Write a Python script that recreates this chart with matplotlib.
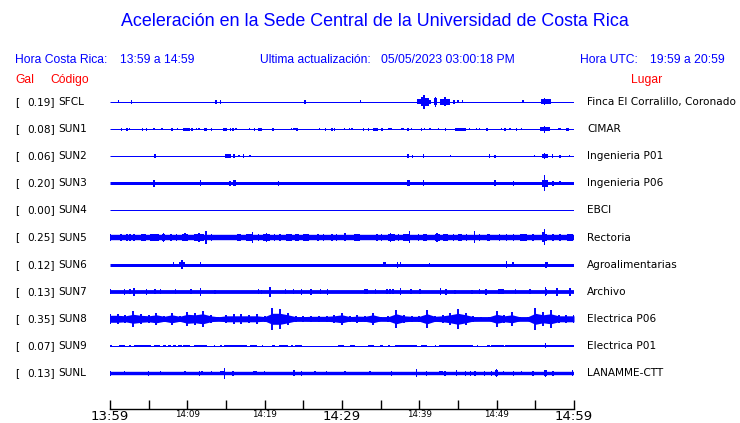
import matplotlib
matplotlib.use("Agg")
import matplotlib.pyplot as plt
import numpy as np

# ---------------- data ----------------
STATIONS = ["SFCL", "SUN1", "SUN2", "SUN3", "SUN4", "SUN5", "SUN6", "SUN7", "SUN8", "SUN9", "SUNL"]
GAL = [0.19, 0.08, 0.06, 0.20, 0.00, 0.25, 0.12, 0.13, 0.35, 0.07, 0.13]
PLACES = ["Finca El Corralillo, Coronado", "CIMAR", "Ingenieria P01", "Ingenieria P06", "EBCI",
          "Rectoria", "Agroalimentarias", "Archivo", "Electrica P06", "Electrica P01", "LANAMME-CTT"]

TICK_MINUTES = [0, 5, 10, 15, 20, 25, 30, 35, 40, 45, 50, 55, 60]
TICK_LABELS = ["13:59", "", "14:09", "", "14:19", "", "14:29", "", "14:39", "", "14:49", "", "14:59"]
MAJOR_TICKS = ["13:59", "14:29", "14:59"]

# background noise half-amplitude of each trace (relative units)
BASE = [0.5, 0.5, 0.5, 1.5, 0.5, 2.7, 1.5, 1.9, 0.0, 0.5, 1.7]

# events: (start minute, end minute, half amplitude)
SFCL_EV = [(1.1, 1.1, 1.5), (2.7, 2.9, 2), (13.6, 13.8, 2), (14.3, 14.3, 2), (25.2, 25.2, 2),
           (32.4, 32.4, 1.5), (39.7, 40.3, 2.5), (40.2, 40.5, 4.5), (40.6, 40.6, 7), (40.6, 41.3, 4),
           (41.4, 41.4, 2), (41.9, 42.3, 3.5), (42.1, 42.1, 5), (42.7, 44.0, 3), (43.3, 43.3, 4.5),
           (44.5, 44.5, 2), (45.0, 45.0, 1.5), (45.5, 45.7, 1.5), (53.4, 53.4, 1.5),
           (55.7, 57.0, 2.5), (56.1, 56.3, 3.5)]
SUN1_EV = [(1.5, 1.5, 1.5), (2.2, 2.2, 1.5), (2.5, 2.5, 1.2), (4.2, 4.2, 1.5), (4.7, 4.7, 1.5),
           (5.7, 5.7, 1.2), (6.7, 6.7, 1.2), (8.0, 8.0, 1.5), (8.7, 8.7, 1.2), (9.5, 10.3, 1.5),
           (10.6, 10.6, 1.5), (11.2, 11.2, 1.2), (11.5, 11.5, 1.2), (12.1, 12.5, 1.5), (13.1, 13.1, 1.5),
           (14.6, 15.1, 1.5), (15.5, 15.7, 1.5), (15.9, 15.9, 1.5), (16.3, 16.3, 1.2), (18.0, 18.0, 1.2),
           (18.7, 18.7, 1.5), (19.2, 19.7, 1.5), (21.1, 21.1, 1.5), (23.5, 23.5, 1.2), (23.7, 23.7, 1.2),
           (23.9, 23.9, 1.2), (24.2, 24.2, 1.5), (27.1, 27.1, 1.2), (27.9, 27.9, 1.5), (28.7, 28.7, 1.5),
           (29.0, 29.0, 1.5), (30.3, 30.4, 1.2), (31.0, 31.0, 1.2), (31.3, 31.3, 1.2), (32.8, 32.8, 1.5),
           (33.4, 33.4, 1.5), (34.0, 34.7, 1.5), (35.1, 35.3, 1.5), (36.0, 36.0, 1.2), (36.2, 36.2, 1.2),
           (36.4, 36.4, 1.2), (37.7, 37.7, 1.2), (37.9, 37.9, 1.2), (38.4, 38.6, 1.5), (39.0, 39.0, 1.2),
           (40.3, 40.3, 1.5), (40.7, 40.7, 1.2), (41.4, 41.4, 1.2), (42.5, 42.5, 1.2), (43.4, 43.4, 1.5),
           (44.6, 46.0, 1.5), (46.5, 46.5, 1.2), (47.4, 47.4, 1.2), (47.8, 47.8, 1.2), (48.6, 48.9, 1.5),
           (50.6, 50.6, 1.2), (51.1, 51.1, 1.5), (51.7, 51.7, 1.2), (52.6, 52.6, 1.5), (53.2, 53.2, 1.2),
           (55.6, 56.9, 2.3), (56.2, 56.2, 3.5), (58.0, 58.0, 1.2), (58.2, 58.2, 1.2), (59.1, 59.1, 1.5),
           (59.3, 59.3, 1.5)]
SUN2_EV = [(5.8, 5.8, 2), (14.9, 15.6, 2), (15.9, 16.2, 2), (16.7, 16.7, 1.2), (17.3, 17.3, 2),
           (18.1, 18.1, 1), (38.4, 38.7, 2), (39.1, 39.1, 1.5), (40.5, 40.5, 2), (44.0, 44.0, 1.2),
           (49.1, 49.1, 2), (49.8, 49.8, 1.5), (54.9, 54.9, 1), (55.8, 56.7, 2.3), (56.2, 56.2, 3),
           (57.2, 57.2, 2), (58.2, 58.2, 1.5), (59.4, 59.4, 1.2)]
SUN3_EV = [(5.7, 5.7, 3.5), (11.7, 11.7, 3), (15.5, 15.5, 2.5), (15.9, 16.3, 3), (21.8, 21.8, 2.5),
           (38.4, 38.8, 2.8), (40.5, 40.5, 3), (49.8, 49.8, 3), (52.2, 52.2, 2.5), (55.8, 56.7, 3.5),
           (56.1, 56.3, 5), (56.2, 56.2, 8), (57.3, 57.3, 2.5), (58.2, 58.2, 2)]
SUN4_EV = []
SUN5_EV = [(0.1, 0.1, 3.5), (1.4, 1.4, 3.5), (2.2, 2.2, 3.5), (2.6, 2.6, 3.5), (3.1, 3.1, 3.5),
           (4.0, 4.7, 3.1), (5.2, 6.3, 3.2), (6.7, 7.1, 3.5), (6.9, 6.9, 4.5), (7.9, 7.9, 3.5),
           (8.6, 8.6, 3.5), (9.3, 10.1, 3.3), (9.7, 9.7, 4), (10.8, 12.1, 3.4), (11.5, 11.5, 4.5),
           (12.4, 12.4, 6.5), (13.1, 13.1, 3.5), (16.4, 17.0, 3.2), (17.6, 18.3, 3.4), (18.4, 18.4, 5.5),
           (19.2, 19.2, 3.5), (19.8, 20.7, 3.4), (20.2, 20.2, 4.5), (21.3, 21.3, 3.5), (22.0, 22.0, 3.5),
           (22.8, 23.5, 3.2), (23.9, 24.4, 3.2), (25.0, 25.7, 3.3), (26.9, 26.9, 3.5), (27.6, 27.6, 3.5),
           (28.7, 28.7, 3.5), (29.3, 29.3, 3.5), (30.4, 30.4, 4), (31.5, 32.3, 3.2), (34.5, 34.5, 3.5),
           (35.1, 35.1, 3.5), (36.0, 36.9, 3.4), (36.3, 36.3, 4.5), (37.3, 37.3, 3.5), (37.9, 38.6, 3.4),
           (38.7, 38.7, 6), (39.9, 39.9, 3.5), (40.5, 41.0, 3.2), (42.0, 42.7, 3.4), (42.3, 42.3, 4.5),
           (43.1, 43.7, 3.2), (44.4, 44.4, 3.5), (45.0, 45.5, 3.2), (46.1, 46.1, 3.5), (47.1, 47.1, 6),
           (47.8, 47.8, 3.5), (48.7, 49.1, 3.2), (50.4, 50.4, 3.5), (51.3, 51.3, 3.5), (52.2, 52.2, 3.5),
           (53.0, 53.9, 3.2), (54.7, 54.7, 3.5), (55.8, 56.5, 3.6), (56.0, 56.0, 5), (56.2, 56.2, 8),
           (57.3, 57.3, 3.5), (58.2, 58.2, 3.5), (59.1, 59.9, 3.2)]
SUN6_EV = [(8.2, 8.2, 2.5), (8.9, 9.7, 2.5), (9.3, 9.3, 4.5), (11.7, 11.7, 2.5), (35.3, 35.7, 2.3),
           (37.2, 37.2, 3), (37.6, 37.6, 2.5), (41.3, 41.3, 2), (51.3, 51.3, 3.5), (52.1, 52.1, 2.5),
           (56.2, 56.7, 2.5), (56.4, 56.4, 3)]
SUN7_EV = [(0.1, 0.1, 2.5), (1.9, 1.9, 3), (2.6, 2.6, 2.5), (3.1, 3.1, 4), (4.7, 4.7, 3), (5.8, 5.8, 2.5),
           (6.5, 6.5, 2.5), (8.5, 8.5, 2.5), (10.3, 10.6, 2.6), (11.7, 11.7, 4), (13.6, 13.6, 2),
           (19.2, 19.2, 2.5), (19.6, 19.6, 2), (20.7, 20.7, 5), (22.7, 22.7, 2.5), (23.7, 23.7, 2.5),
           (24.8, 24.8, 3), (26.0, 26.0, 3), (27.2, 27.2, 2.5), (28.1, 28.1, 3), (32.8, 33.3, 2.6),
           (34.3, 34.3, 2.5), (35.8, 35.8, 2.5), (36.2, 36.2, 2.5), (36.6, 36.6, 2.5), (37.6, 37.6, 3.5),
           (38.9, 38.9, 2.5), (40.1, 40.1, 2.5), (42.7, 42.7, 3.5), (43.3, 43.6, 2.8), (44.6, 44.6, 2),
           (46.8, 46.8, 2), (47.8, 47.8, 2.5), (48.6, 48.6, 3), (50.2, 50.9, 2.4), (52.4, 52.4, 2.5),
           (54.3, 54.3, 2.5), (56.2, 56.5, 3.2), (56.3, 56.3, 4.5), (57.8, 57.8, 4), (59.5, 59.5, 4)]
SUN8_EV = []
SUN9_EV = [(0.0, 0.3, 1.4), (1.1, 1.9, 1.4), (2.4, 2.7, 1.4), (3.1, 5.3, 1.4), (5.7, 6.5, 1.4),
           (6.9, 7.2, 1.4), (7.5, 7.9, 1.4), (8.2, 8.5, 1.4), (8.8, 9.3, 1.4), (9.5, 10.3, 1.4),
           (10.8, 12.5, 1.4), (13.4, 13.6, 1.4), (14.2, 14.5, 1.4), (14.8, 17.7, 1.4), (18.1, 19.0, 1.4),
           (19.6, 19.8, 1.4), (20.9, 21.4, 1.4), (21.9, 23.0, 1.4), (23.4, 23.7, 1.4), (23.9, 24.8, 1.4),
           (29.5, 30.2, 1.4), (31.0, 31.7, 1.4), (33.4, 34.1, 1.4), (34.9, 35.3, 1.4), (36.0, 36.2, 1.4),
           (36.9, 39.7, 1.4), (40.2, 41.0, 1.4), (42.0, 42.2, 1.4), (42.6, 47.0, 1.4), (47.4, 47.6, 1.4),
           (48.7, 49.1, 1.4), (49.3, 50.9, 1.4), (51.1, 60.0, 1.4), (56.3, 56.3, 2.5)]
SUNL_EV = [(0.1, 0.1, 2.5), (1.9, 1.9, 2.2), (5.0, 5.0, 2.5), (6.5, 6.5, 2.2), (9.7, 9.7, 2.2),
           (11.6, 11.6, 2.5), (11.9, 11.9, 2.2), (13.1, 13.1, 2.2), (14.2, 14.8, 2.4), (14.8, 14.8, 5.5),
           (15.9, 15.9, 2.5), (18.5, 19.0, 2.4), (20.0, 20.0, 2.2), (23.8, 23.8, 3), (24.8, 24.8, 2.5),
           (26.5, 26.5, 2.2), (28.0, 28.0, 2.2), (30.4, 30.4, 2.2), (33.6, 33.6, 2.2), (36.4, 36.4, 2.5),
           (39.6, 39.6, 4), (40.9, 40.9, 2.5), (42.6, 43.1, 2.3), (43.3, 43.3, 2.5), (44.8, 44.8, 3),
           (46.0, 46.0, 2.5), (46.6, 46.6, 2.5), (47.2, 47.2, 2.5), (48.4, 48.4, 2.5), (49.3, 49.3, 2.5),
           (49.8, 50.2, 2.6), (50.0, 50.0, 4), (50.9, 50.9, 2.2), (52.2, 52.2, 2.5), (53.2, 53.2, 2.2),
           (54.7, 54.7, 2.5), (56.1, 56.5, 2.6), (56.3, 56.3, 3.5), (57.3, 57.3, 2.5), (59.8, 59.8, 3)]
EVENTS = [SFCL_EV, SUN1_EV, SUN2_EV, SUN3_EV, SUN4_EV, SUN5_EV, SUN6_EV, SUN7_EV, SUN8_EV, SUN9_EV, SUNL_EV]

# SUN8: dense core half-width and peak half-amplitude, one value per minute 0..60
SUN8_MIN = list(range(61))
SUN8_CORE = [3.5, 3.5, 3.0, 4.5, 3.5, 3.0, 4.0, 2.5, 4.0, 2.5, 4.5, 4.0, 5.0, 3.0, 2.0, 3.0, 3.0, 3.0, 3.0,
             3.0, 2.2, 5.5, 5.5, 4.0, 2.2, 2.2, 2.5, 2.5, 2.5, 3.0, 4.0, 2.2, 2.7, 2.5, 4.0, 2.0, 2.2,
             5.0, 3.0, 2.5, 2.5, 5.0, 2.5, 3.0, 4.0, 5.5, 4.0, 2.2, 2.0, 2.0, 4.5, 3.0, 4.0, 2.0, 2.0,
             5.5, 4.0, 5.0, 3.0, 3.0, 3.0]
SUN8_PEAK = [5.3, 5.0, 4.3, 8.0, 5.0, 4.3, 6.0, 3.3, 6.0, 3.3, 7.0, 6.0, 8.0, 4.3, 2.0, 4.0, 4.7, 4.7, 4.3,
             4.7, 2.7, 11.0, 10.0, 6.0, 2.7, 2.7, 3.3, 3.3, 3.3, 4.0, 6.0, 2.7, 3.7, 3.3, 6.0, 2.0, 2.7,
             9.3, 4.3, 3.3, 3.3, 9.3, 3.3, 4.3, 6.0, 10.3, 6.0, 2.7, 2.0, 2.0, 7.7, 4.3, 6.7, 2.0, 2.0,
             11.0, 6.7, 9.3, 4.3, 4.3, 4.3]

# ---------------- styling ----------------
BLUE = "#0000ff"
RED = "#ff0000"
W, H = 740, 423
PX_PER_ROW = 27.1       # vertical spacing between traces (px)
PX_PER_MIN = 464 / 60.0
MIN_W = 1.4 / PX_PER_MIN
SANS = ["Liberation Sans", "DejaVu Sans"]
DV = ["DejaVu Sans"]

fig = plt.figure(figsize=(W / 100, H / 100), dpi=100)
top_px, bot_px, first_px = 88, 409, 102
ax = fig.add_axes([110 / W, (H - bot_px) / H, 464 / W, (bot_px - top_px) / H])
ax.set_xlim(0, 60)
ax.set_ylim((bot_px - first_px) / PX_PER_ROW, (top_px - first_px) / PX_PER_ROW)
s = 1.0 / PX_PER_ROW

for i, name in enumerate(STATIONS):
    y = i
    if name == "SUN8":
        core = np.array(SUN8_CORE) * s
        peak = np.array(SUN8_PEAK) * s
        ax.fill_between(SUN8_MIN, y - core, y + core, color=BLUE, lw=0)
        ax.vlines(SUN8_MIN, y - peak, y + peak, color=BLUE, lw=1.4)
        ax.hlines(y, 0, 60, color=BLUE, lw=4.5 * 0.72)
    else:
        b = BASE[i]
        ax.hlines(y, 0, 60, color=BLUE, lw=max(2 * b, 1.0) * 0.72, capstyle="butt")
    for (t0, t1, a) in EVENTS[i]:
        if t1 - t0 < MIN_W:
            x0, w = (t0 + t1) / 2 - MIN_W / 2, MIN_W
        else:
            x0, w = t0, t1 - t0
        ax.bar(x0, 2 * a * s, width=w, bottom=y - a * s, align="edge", color=BLUE, lw=0)

for sp in ["top", "left", "right"]:
    ax.spines[sp].set_visible(False)
ax.spines["bottom"].set_linewidth(1.0)
ax.set_yticks([])
ax.set_xticks(TICK_MINUTES)
ax.set_xticklabels(TICK_LABELS)
ax.tick_params(axis="x", direction="in", length=6.8, width=1.0, pad=0.5)
for lab in ax.get_xticklabels():
    if lab.get_text() in MAJOR_TICKS:
        lab.set_fontsize(9.5)
    else:
        lab.set_fontsize(6.3)
    lab.set_family(DV)

def ftext(x, y, t, **kw):
    fig.text(x / W, 1 - y / H, t, **kw)

HF = 8.7
ftext(375, 22, "Aceleración en la Sede Central de la Universidad de Costa Rica", ha="center", va="center",
      color=BLUE, fontsize=12.9, family=SANS)
ftext(15, 60, "Hora Costa Rica:", ha="left", va="center", color=BLUE, fontsize=HF, family=SANS)
ftext(120, 60, "13:59 a 14:59", ha="left", va="center", color=BLUE, fontsize=HF, family=SANS)
ftext(260, 60, "Ultima actualización:", ha="left", va="center", color=BLUE, fontsize=HF, family=SANS)
ftext(381, 60, "05/05/2023 03:00:18 PM", ha="left", va="center", color=BLUE, fontsize=HF, family=SANS)
ftext(580, 60, "Hora UTC:", ha="left", va="center", color=BLUE, fontsize=HF, family=SANS)
ftext(650, 60, "19:59 a 20:59", ha="left", va="center", color=BLUE, fontsize=HF, family=SANS)
ftext(15, 80, "Gal", ha="left", va="center", color=RED, fontsize=HF, family=SANS)
ftext(50, 80, "Código", ha="left", va="center", color=RED, fontsize=HF, family=SANS)
ftext(631, 80, "Lugar", ha="left", va="center", color=RED, fontsize=HF, family=SANS)

for i, name in enumerate(STATIONS):
    ypx = first_px + i * PX_PER_ROW
    ftext(15, ypx, "[", ha="left", va="center", fontsize=7.6, family=DV)
    ftext(55, ypx, f"{GAL[i]:.2f}]", ha="right", va="center", fontsize=7.6, family=DV)
    ftext(58, ypx, name, ha="left", va="center", fontsize=7.6, family=DV)
    ftext(587, ypx, PLACES[i], ha="left", va="center", fontsize=7.6, family=DV)

fig.savefig("out.png", dpi=100, facecolor="white")
